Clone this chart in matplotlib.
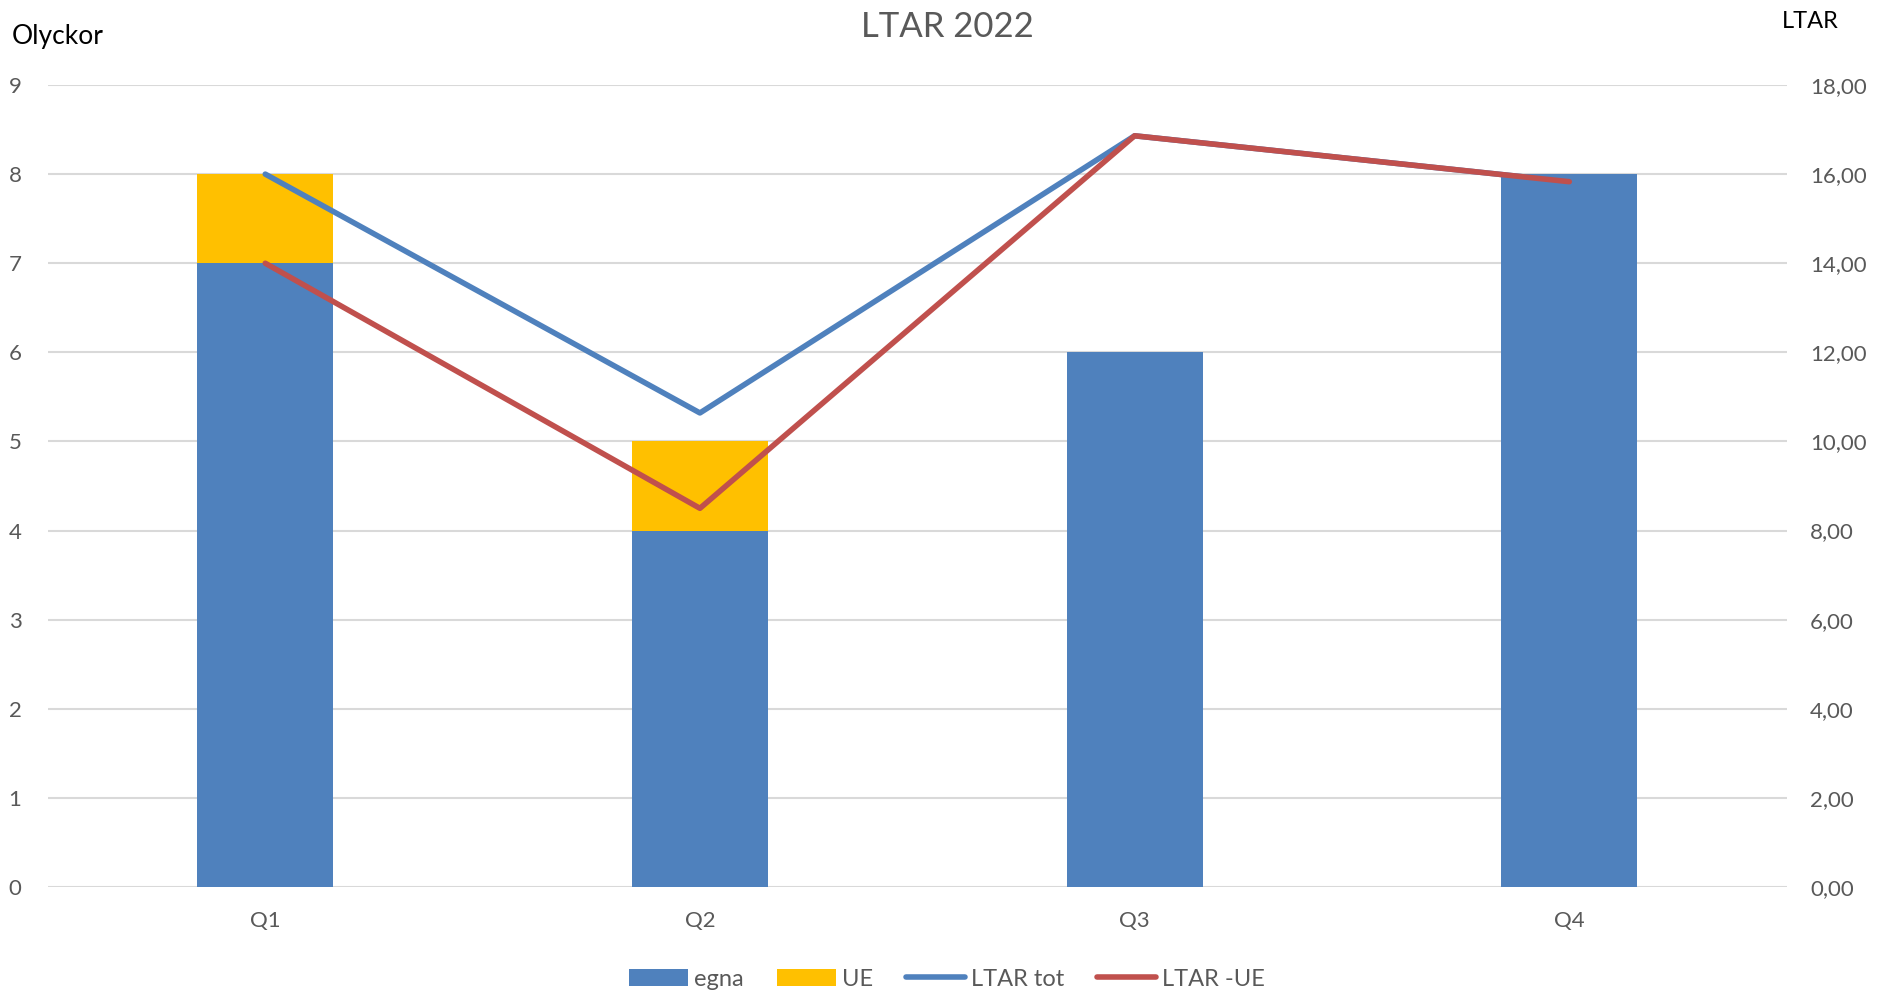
import matplotlib.pyplot as plt
import numpy as np
from matplotlib.ticker import FuncFormatter

plt.rcParams["font.family"] = ["Lato", "DejaVu Sans"]

quarters = ["Q1", "Q2", "Q3", "Q4"]
egna = [7, 4, 6, 8]
ue = [1, 1, 0, 0]
ltar_tot = [16.0, 10.64, 16.86, 15.83]
ltar_minus_ue = [14.0, 8.5, 16.86, 15.83]

BLUE = "#4f81bd"
YELLOW = "#ffc000"
RED = "#c0504d"
GRAY = "#595959"
GRID = "#d9d9d9"

fig = plt.figure(figsize=(18.94, 9.93), dpi=100)
ax = fig.add_axes([0.0253, 0.1067, 0.918, 0.8077])
ax2 = ax.twinx()

x = np.arange(len(quarters))
bar_w = 0.313
ax.bar(x, egna, bar_w, color=BLUE, label="egna", zorder=2)
ax.bar(x, ue, bar_w, bottom=egna, color=YELLOW, label="UE", zorder=2)

ax2.plot(x, ltar_tot, color=BLUE, lw=4, solid_capstyle="round", label="LTAR tot")
ax2.plot(x, ltar_minus_ue, color=RED, lw=4, solid_capstyle="round", label="LTAR -UE")

ax.set_xlim(-0.5, 3.5)
ax.set_ylim(0, 9)
ax2.set_ylim(0, 18)
ax.set_yticks(range(0, 10))
ax2.set_yticks(range(0, 19, 2))
ax2.yaxis.set_major_formatter(FuncFormatter(lambda v, p: f"{v:.2f}".replace(".", ",")))

ax.set_xticks(x)
ax.set_xticklabels(quarters)
ax.grid(axis="y", color=GRID, lw=1.5, zorder=0)
ax.set_axisbelow(True)

for a in (ax, ax2):
    for s in a.spines.values():
        s.set_visible(False)
    a.tick_params(length=0, colors=GRAY, labelsize=16)
ax.tick_params(axis="y", pad=19)
ax.tick_params(axis="x", pad=17)
ax2.tick_params(axis="y", pad=17)

fig.text(0.5, 0.973, "LTAR 2022", ha="center", va="center", fontsize=25, color=GRAY)
fig.text(0.006, 0.963, "Olyckor", ha="left", va="center", fontsize=19, color="black")
fig.text(0.941, 0.978, "LTAR", ha="left", va="center", fontsize=17, color="black")

h1, l1 = ax.get_legend_handles_labels()
h2, l2 = ax2.get_legend_handles_labels()
fig.legend(h1 + h2, l1 + l2, loc="center", bbox_to_anchor=(0.5, 0.014), ncol=4,
           frameon=False, fontsize=17, labelcolor=GRAY, handlelength=2.5,
           handleheight=0.7, handletextpad=0.25, columnspacing=1.4)

fig.savefig("out.png", dpi=100)
